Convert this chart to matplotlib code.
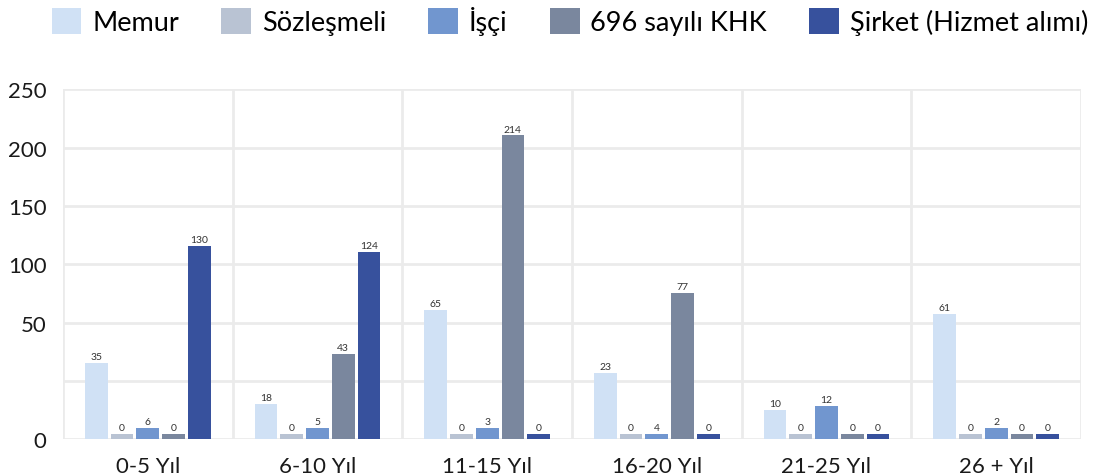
import numpy as np
import matplotlib.pyplot as plt

plt.rcParams['font.family'] = ['Lato', 'DejaVu Sans']

kategoriler = ['0-5 Yıl', '6-10 Yıl', '11-15 Yıl', '16-20 Yıl', '21-25 Yıl', '26 + Yıl']
seriler = ['Memur', 'Sözleşmeli', 'İşçi', '696 sayılı KHK', 'Şirket (Hizmet alımı)']
renkler = ['#d0e1f5', '#b9c3d3', '#7196cf', '#7a879e', '#37519d']

# etiketlerde yazan sayilar
memur = [35, 18, 65, 23, 10, 61]
sozlesmeli = [0, 0, 0, 0, 0, 0]
isci = [6, 5, 3, 4, 12, 2]
khk = [0, 43, 214, 77, 0, 0]
sirket = [130, 124, 0, 0, 0, 0]

# cubuklarin eksene gore okunan yukseklikleri (grafik olcegi bozuk)
h_memur = [65.3, 30.2, 111.0, 56.8, 25.1, 107.3]
h_sozlesmeli = [4.5, 4.5, 4.5, 4.5, 4.5, 4.5]
h_isci = [9.7, 9.7, 9.7, 4.5, 28.5, 9.7]
h_khk = [4.5, 73.0, 260.5, 125.3, 4.5, 4.5]
h_sirket = [165.5, 160.4, 4.5, 4.5, 4.5, 4.5]

y_tikler = [0, 50, 100, 150, 200, 250, 300]
y_etiketler = ['0', '', '50', '100', '150', '200', '250']

etiketler = [memur, sozlesmeli, isci, khk, sirket]
yukseklik = [h_memur, h_sozlesmeli, h_isci, h_khk, h_sirket]

fig = plt.figure(figsize=(10.94, 4.77), dpi=100)
ax = fig.add_axes([0.0576, 0.077, 0.9305, 0.734])

x = np.arange(len(kategoriler))
aralik = 0.1517
genislik = 0.134
for i in range(5):
    pos = x + (i - 2) * aralik
    bars = ax.bar(pos, yukseklik[i], width=genislik, color=renkler[i], label=seriler[i], zorder=3)
    for b, v in zip(bars, etiketler[i]):
        ax.text(b.get_x() + b.get_width() / 2, b.get_height() + 1.5, str(v),
                ha='center', va='bottom', fontsize=7.5, color='#333333', zorder=4)

ax.set_xlim(-0.5, 5.5)
ax.set_ylim(0, 300)
ax.set_yticks(y_tikler)
ax.set_yticklabels(y_etiketler)
ax.set_xticks(x)
ax.set_xticklabels(kategoriler)
ax.set_xticks(np.arange(-0.5, 6, 1), minor=True)
ax.tick_params(axis='both', which='both', length=0, labelsize=16, colors='#1a1a1a')
ax.tick_params(axis='y', pad=12)
ax.tick_params(axis='x', pad=12)
ax.grid(True, which='major', axis='y', color='#ebebeb', linewidth=2, zorder=0)
ax.grid(True, which='minor', axis='x', color='#ebebeb', linewidth=2, zorder=0)
for s in ax.spines.values():
    s.set_visible(False)

fig.legend(loc='upper center', bbox_to_anchor=(0.521, 1.017), ncol=5, frameon=False,
           fontsize=19.5, handlelength=1.1, handleheight=1.1, handletextpad=0.4,
           columnspacing=1.56, borderaxespad=0.15)

fig.savefig('out.png', dpi=100)
